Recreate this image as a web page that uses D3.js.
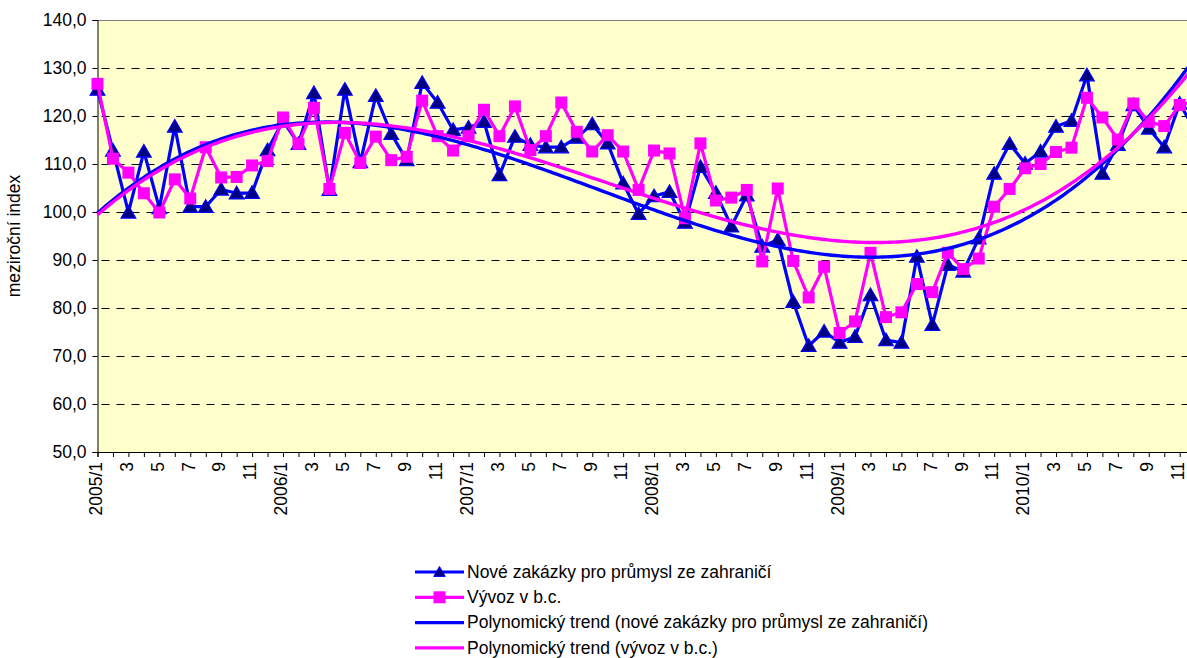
<!DOCTYPE html>
<html>
<head>
<meta charset="utf-8">
<script src="https://cdn.jsdelivr.net/npm/d3@7"></script>
<style>
  html, body { margin: 0; padding: 0; background: #fff; }
  svg { display: block; }
  text { font-family: "Liberation Sans", Arial, sans-serif; fill: #000; }
</style>
</head>
<body>
<svg id="chart" width="1187" height="658"></svg>
<script>
// Monthly categories 2005/1 .. 2010/12
const years = [2005, 2006, 2007, 2008, 2009, 2010];
const months = d3.range(1, 13);
const categories = years.flatMap(yr => months.map(m => `${yr}/${m}`));

// New industrial orders from abroad (year-on-year index)
const noveZakazky = [
  125.5, 112.8, 99.9, 112.6, 100.8, 117.8, 101.1, 101.1, 104.7, 103.9, 104.0, 112.9,
  119.0, 114.2, 124.8, 104.6, 125.5, 110.4, 124.2, 116.3, 110.8, 126.9, 122.8, 117.1,
  117.6, 118.8, 107.7, 115.7, 114.0, 113.5, 113.5, 115.5, 118.3, 114.3, 106.0, 99.6,
  103.3, 104.2, 97.8, 109.4, 104.0, 97.0, 103.5, 92.8, 94.2, 81.3, 72.1, 75.1,
  72.8, 74.0, 82.7, 73.3, 72.8, 90.7, 76.5, 89.0, 87.6, 94.5, 108.0, 114.2,
  110.1, 112.6, 117.8, 119.0, 128.5, 108.0, 114.0, 122.3, 117.4, 113.5, 122.6, 117.0
];

// Exports at current prices (year-on-year index)
const vyvoz = [
  126.7, 111.1, 108.2, 103.9, 99.9, 106.8, 102.8, 113.5, 107.2, 107.3, 109.7, 110.6,
  119.7, 114.2, 121.7, 104.8, 116.5, 110.2, 115.7, 110.8, 111.5, 123.2, 115.8, 112.8,
  115.8, 121.3, 115.8, 122.0, 112.9, 115.8, 122.8, 116.7, 112.6, 116.0, 112.6, 104.6,
  112.8, 112.2, 98.7, 114.3, 102.4, 103.0, 104.6, 89.7, 104.9, 89.8, 82.2, 88.6,
  74.8, 77.2, 91.5, 78.1, 79.1, 85.0, 83.3, 91.5, 88.1, 90.3, 101.1, 104.8,
  109.1, 110.0, 112.5, 113.4, 123.8, 119.7, 115.1, 122.6, 118.8, 117.9, 122.3, 123.0
];

const yTicks = [50, 60, 70, 80, 90, 100, 110, 120, 130, 140];
const legendLabels = [
  "Nové zakázky pro průmysl ze zahraničí",
  "Vývoz v b.c.",
  "Polynomický trend (nové zakázky pro průmysl ze zahraničí)",
  "Polynomický trend (vývoz v b.c.)"
];
const trendOrder = 3;

const BLUE = "#0000ff", NAVY = "#000080", MAGENTA = "#ff00ff";
const FONT = 17.5;

const svg = d3.select("#chart");

// plot area geometry
const plotLeft = 97.5, plotTop = 20, plotBottom = 452;
const step = 15.46;
const plotRight = plotLeft + step * (categories.length - 1);

const x = d3.scalePoint().domain(categories).range([plotLeft, plotRight]);
const xi = d3.scaleLinear().domain([0, categories.length - 1]).range([plotLeft, plotRight]);
const y = d3.scaleLinear().domain([50, 140]).range([plotBottom, plotTop]);

// background
svg.append("rect")
  .attr("x", plotLeft).attr("y", plotTop)
  .attr("width", plotRight - plotLeft).attr("height", plotBottom - plotTop)
  .attr("fill", "#ffffcc");
svg.append("line")
  .attr("x1", plotLeft).attr("x2", plotRight).attr("y1", plotTop + 0.5).attr("y2", plotTop + 0.5)
  .attr("stroke", "#808080").attr("stroke-width", 1);

// horizontal dashed gridlines
svg.append("g").selectAll("line")
  .data(yTicks.filter(v => v > 50 && v < 140))
  .join("line")
  .attr("x1", plotLeft + 4).attr("x2", plotRight)
  .attr("y1", d => Math.round(y(d)) + 0.5).attr("y2", d => Math.round(y(d)) + 0.5)
  .attr("stroke", "#000").attr("stroke-width", 1)
  .attr("stroke-dasharray", "8,7");

// y axis
const yAxis = d3.axisLeft(y).tickValues(yTicks).tickSize(5).tickPadding(6)
  .tickFormat(d => d3.format(".1f")(d).replace(".", ","));
const gy = svg.append("g").attr("transform", `translate(${plotLeft},0)`).call(yAxis);
gy.select(".domain").attr("stroke", "#000");
gy.selectAll(".tick line").attr("stroke", "#000");
gy.selectAll("text").attr("font-size", FONT).attr("font-family", null);

// x axis
const xAxis = d3.axisBottom(x).tickSize(5).tickPadding(0)
  .tickFormat(d => {
    const m = Number(d.split("/")[1]);
    if (m === 1) return d;
    return m % 2 === 1 ? String(m) : "";
  });
const gx = svg.append("g").attr("transform", `translate(0,${plotBottom})`).call(xAxis);
gx.select(".domain").attr("stroke", "#000");
gx.selectAll(".tick line").attr("stroke", "#000");
gx.selectAll("text")
  .attr("font-size", FONT).attr("font-family", null)
  .attr("text-anchor", "end")
  .attr("transform", "translate(-2,10) rotate(-90)")
  .attr("x", 0).attr("y", 0).attr("dy", "0.33em");

// y axis title
svg.append("text")
  .attr("transform", `translate(20,${(plotTop + plotBottom) / 2}) rotate(-90)`)
  .attr("text-anchor", "middle")
  .attr("font-size", FONT)
  .text("meziroční index");

// least-squares polynomial fit over month index
function polyFit(values, order) {
  const n = values.length;
  const ts = values.map((_, i) => i / (n - 1));
  const m = order + 1;
  const A = Array.from({length: m}, () => new Array(m + 1).fill(0));
  ts.forEach((t, k) => {
    for (let r = 0; r < m; r++) {
      for (let c = 0; c < m; c++) A[r][c] += Math.pow(t, r + c);
      A[r][m] += values[k] * Math.pow(t, r);
    }
  });
  for (let i = 0; i < m; i++) {
    let p = i;
    for (let r = i + 1; r < m; r++) if (Math.abs(A[r][i]) > Math.abs(A[p][i])) p = r;
    [A[i], A[p]] = [A[p], A[i]];
    for (let r = 0; r < m; r++) {
      if (r === i) continue;
      const f = A[r][i] / A[i][i];
      for (let c = i; c <= m; c++) A[r][c] -= f * A[i][c];
    }
  }
  const coef = A.map((row, i) => row[m] / row[i]);
  return i => {
    const t = i / (n - 1);
    return coef.reduce((s, c, k) => s + c * Math.pow(t, k), 0);
  };
}

const lineGen = d3.line().x((d, i) => x(categories[i])).y(d => y(d));

function drawSeries(values, color) {
  svg.append("path").datum(values)
    .attr("d", lineGen)
    .attr("fill", "none").attr("stroke", color)
    .attr("stroke-width", 3.2).attr("stroke-linejoin", "round");
}

const triPath = s => `M0,${-s}L${s * 1.05},${s * 0.8}L${-s * 1.05},${s * 0.8}Z`;

// series 1: triangles
drawSeries(noveZakazky, BLUE);
svg.append("g").selectAll("path")
  .data(noveZakazky)
  .join("path")
  .attr("transform", (d, i) => `translate(${x(categories[i])},${y(d)})`)
  .attr("d", triPath(7))
  .attr("fill", NAVY).attr("stroke", BLUE).attr("stroke-width", 1.2);

// series 2: squares
drawSeries(vyvoz, MAGENTA);
svg.append("g").selectAll("rect")
  .data(vyvoz)
  .join("rect")
  .attr("x", (d, i) => x(categories[i]) - 6).attr("y", d => y(d) - 6)
  .attr("width", 12).attr("height", 12)
  .attr("fill", MAGENTA);

// polynomial trends
const steps = d3.range(0, categories.length - 1 + 0.001, 0.25);
[[noveZakazky, BLUE], [vyvoz, MAGENTA]].forEach(([vals, color]) => {
  const f = polyFit(vals, trendOrder);
  svg.append("path")
    .datum(steps)
    .attr("d", d3.line().x(t => xi(t)).y(t => y(f(t))))
    .attr("fill", "none").attr("stroke", color).attr("stroke-width", 3.4);
});

// legend
const legendX = 415, legendY0 = 572, legendDy = 25.3;
const lg = svg.append("g");
legendLabels.forEach((label, i) => {
  const yy = legendY0 + i * legendDy;
  const color = (i % 2 === 0) ? BLUE : MAGENTA;
  lg.append("line")
    .attr("x1", legendX).attr("x2", legendX + 49)
    .attr("y1", yy).attr("y2", yy)
    .attr("stroke", color).attr("stroke-width", 3.2);
  if (i === 0) {
    lg.append("path").attr("transform", `translate(${legendX + 24.5},${yy})`)
      .attr("d", triPath(5.5)).attr("fill", NAVY).attr("stroke", BLUE).attr("stroke-width", 1);
  } else if (i === 1) {
    lg.append("rect").attr("x", legendX + 24.5 - 6).attr("y", yy - 6)
      .attr("width", 12).attr("height", 12).attr("fill", MAGENTA);
  }
  lg.append("text")
    .attr("x", legendX + 52).attr("y", yy).attr("dy", "0.33em")
    .attr("font-size", FONT)
    .text(label);
});
</script>
</body>
</html>
